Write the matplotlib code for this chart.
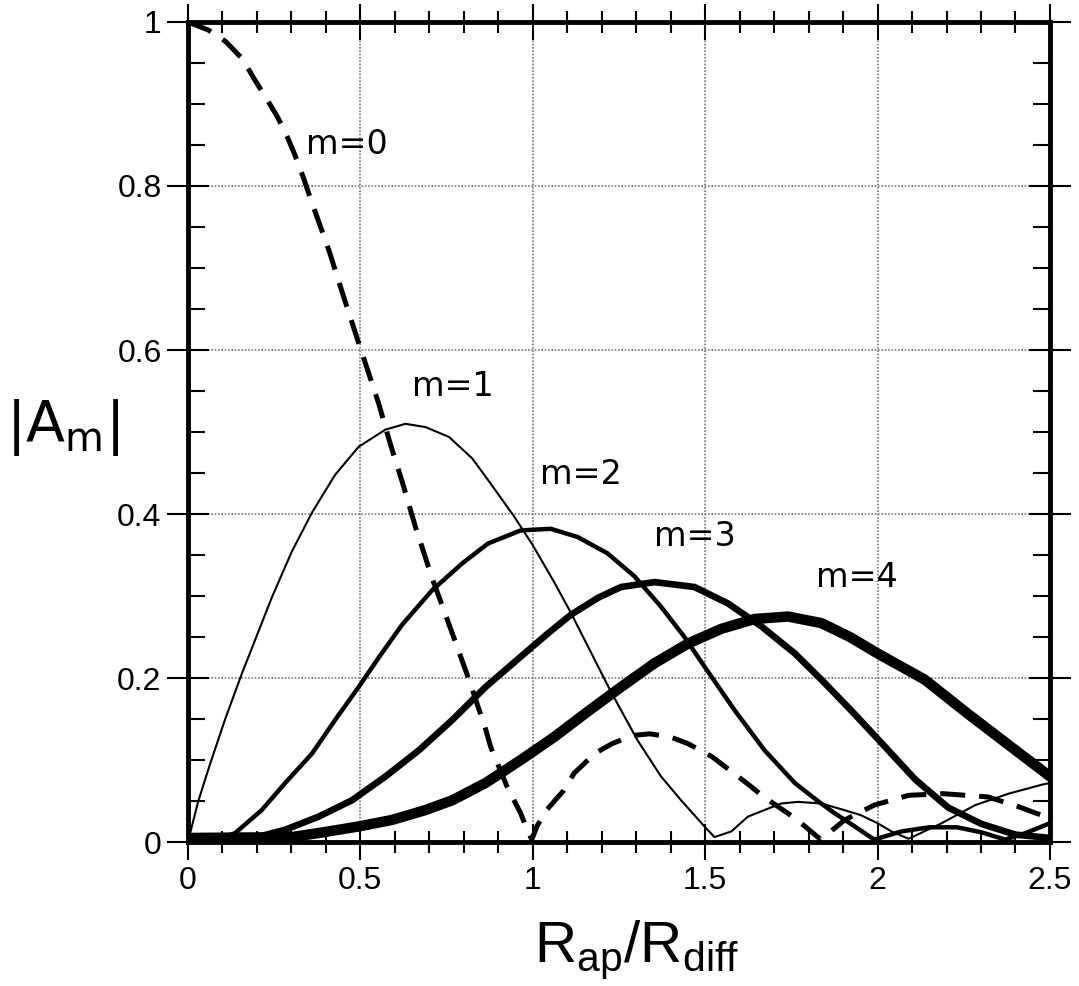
import matplotlib
matplotlib.use("Agg")
import matplotlib.pyplot as plt
from matplotlib import font_manager
from matplotlib.ticker import MultipleLocator, FuncFormatter

# pick a condensed face for ticks / x label if there is one
narrow = "Liberation Sans"
for cand in ["Liberation Sans Narrow", "DejaVu Sans Condensed"]:
    try:
        font_manager.findfont(cand, fallback_to_default=False)
        narrow = cand
        break
    except Exception:
        pass

# ---- data ----
x_m0 = [0.0, 0.06, 0.11, 0.16, 0.19, 0.23, 0.26, 0.29, 0.31, 0.335, 0.355, 0.41, 0.44,
        0.49, 0.52, 0.553, 0.585, 0.623, 0.66, 0.708, 0.767, 0.815, 0.863, 0.878, 0.926,
        0.965, 0.98, 0.997, 1.013, 1.04, 1.09, 1.12, 1.18, 1.23, 1.29, 1.34, 1.40, 1.45,
        1.52, 1.57, 1.62, 1.67, 1.74, 1.79, 1.835, 1.905, 1.99, 2.09, 2.19, 2.32, 2.41,
        2.46, 2.5]
y_m0 = [1.0, 0.99, 0.976, 0.954, 0.932, 0.905, 0.884, 0.858, 0.838, 0.81, 0.785, 0.72, 0.68,
        0.615, 0.577, 0.535, 0.488, 0.437, 0.384, 0.322, 0.254, 0.198, 0.138, 0.116, 0.067,
        0.035, 0.019, 0.003, 0.02, 0.039, 0.063, 0.084, 0.108, 0.12, 0.13, 0.132, 0.128,
        0.12, 0.104, 0.088, 0.072, 0.055, 0.035, 0.019, 0.003, 0.027, 0.045, 0.057, 0.059,
        0.055, 0.043, 0.035, 0.03]

x_m1 = [0.0, 0.01, 0.03, 0.064, 0.108, 0.156, 0.185, 0.243, 0.301, 0.36, 0.427, 0.495,
        0.573, 0.631, 0.689, 0.757, 0.824, 0.866, 0.946, 1.0, 1.062, 1.11, 1.227, 1.304,
        1.372, 1.43, 1.498, 1.527, 1.576, 1.624, 1.72, 1.769, 1.837, 1.895, 1.95, 2.0,
        2.04, 2.09, 2.186, 2.283, 2.38, 2.477, 2.5]
y_m1 = [0.0, 0.017, 0.05, 0.095, 0.15, 0.205, 0.236, 0.298, 0.354, 0.402, 0.448, 0.482,
        0.503, 0.51, 0.506, 0.494, 0.468, 0.444, 0.397, 0.362, 0.317, 0.28, 0.183, 0.124,
        0.08, 0.051, 0.019, 0.006, 0.013, 0.031, 0.047, 0.049, 0.047, 0.04, 0.033, 0.023,
        0.013, 0.004, 0.023, 0.045, 0.059, 0.07, 0.072]

x_m2 = [0.0, 0.1, 0.137, 0.214, 0.282, 0.36, 0.427, 0.495, 0.555, 0.621, 0.708, 0.796,
        0.87, 0.965, 1.052, 1.13, 1.217, 1.295, 1.372, 1.44, 1.498, 1.585, 1.672, 1.76,
        1.83, 1.876, 1.934, 1.99, 2.07, 2.15, 2.23, 2.3, 2.37, 2.43, 2.5]
y_m2 = [0.005, 0.005, 0.011, 0.039, 0.072, 0.108, 0.149, 0.189, 0.226, 0.265, 0.307, 0.34,
        0.364, 0.38, 0.382, 0.372, 0.352, 0.324, 0.287, 0.25, 0.214, 0.161, 0.112, 0.072,
        0.049, 0.035, 0.019, 0.003, 0.013, 0.018, 0.018, 0.012, 0.003, 0.011, 0.023]

x_m3 = [0.0, 0.2, 0.282, 0.379, 0.476, 0.573, 0.67, 0.767, 0.863, 0.965, 1.04, 1.11,
        1.19, 1.256, 1.353, 1.469, 1.566, 1.663, 1.76, 1.837, 1.92, 2.0, 2.11, 2.205,
        2.302, 2.4, 2.5]
y_m3 = [0.005, 0.006, 0.015, 0.031, 0.051, 0.08, 0.112, 0.149, 0.189, 0.226, 0.253, 0.277,
        0.298, 0.311, 0.317, 0.311, 0.291, 0.263, 0.23, 0.198, 0.162, 0.126, 0.076, 0.042,
        0.022, 0.009, 0.005]

x_m4 = [0.0, 0.3, 0.379, 0.495, 0.592, 0.689, 0.767, 0.863, 0.965, 1.062, 1.159, 1.256,
        1.353, 1.45, 1.547, 1.643, 1.74, 1.837, 1.92, 2.0, 2.137, 2.26, 2.4, 2.5]
y_m4 = [0.005, 0.006, 0.011, 0.019, 0.027, 0.039, 0.051, 0.072, 0.1, 0.128, 0.159, 0.189,
        0.218, 0.242, 0.26, 0.272, 0.275, 0.267, 0.25, 0.23, 0.198, 0.157, 0.112, 0.08]

labels = ["m=0", "m=1", "m=2", "m=3", "m=4"]
label_x = [0.461, 0.769, 1.14, 1.47, 1.94]
label_y = [0.85, 0.556, 0.448, 0.373, 0.323]

# ---- figure ----
fig = plt.figure(figsize=(10.79, 9.86), dpi=100)
ax = fig.add_axes([0.1742, 0.146, 0.7989, 0.8317])

ax.plot(x_m0, y_m0, color="black", lw=3.6, ls=(0, (5, 2.8)))
ax.plot(x_m1, y_m1, color="black", lw=1.5)
ax.plot(x_m2, y_m2, color="black", lw=3.2)
ax.plot(x_m3, y_m3, color="black", lw=4.8)
ax.plot(x_m4, y_m4, color="black", lw=7.5)

for t, lx, ly in zip(labels, label_x, label_y):
    ax.text(lx, ly, t, fontsize=24, family="DejaVu Sans", ha="center", va="center")

ax.set_xlim(0, 2.5)
ax.set_ylim(0, 1)
ax.xaxis.set_major_locator(MultipleLocator(0.5))
ax.xaxis.set_minor_locator(MultipleLocator(0.1))
ax.yaxis.set_major_locator(MultipleLocator(0.2))
ax.yaxis.set_minor_locator(MultipleLocator(0.05))
fmt = FuncFormatter(lambda v, p: "%g" % round(v, 3))
ax.xaxis.set_major_formatter(fmt)
ax.yaxis.set_major_formatter(fmt)

ax.grid(True, which="major", color="#777777", lw=1.2, ls=(0, (1, 1)))
ax.set_axisbelow(True)

for s in ax.spines.values():
    s.set_linewidth(3.5)

ax.tick_params(axis="both", which="both", top=True, right=True, width=1.5, color="black")
ax.tick_params(axis="x", which="major", direction="inout", length=26, pad=4)
ax.tick_params(axis="x", which="minor", direction="inout", length=16)
ax.tick_params(axis="y", which="major", direction="inout", length=30, pad=4)
ax.tick_params(axis="y", which="minor", direction="in", length=12)

for lab in ax.get_xticklabels() + ax.get_yticklabels():
    lab.set_fontfamily(narrow)
    lab.set_fontsize(23)

ax.set_xlabel(r"$\mathregular{R_{ap}/R_{diff}}$", fontsize=42, family=narrow)
ax.xaxis.set_label_coords(0.52, -0.093)
ax.set_ylabel(r"$\mathregular{|A_m|}$", fontsize=41, family="DejaVu Sans",
              rotation=0, ha="center", va="center")
ax.yaxis.set_label_coords(-0.145, 0.505)

fig.savefig("out.png", dpi=100)
